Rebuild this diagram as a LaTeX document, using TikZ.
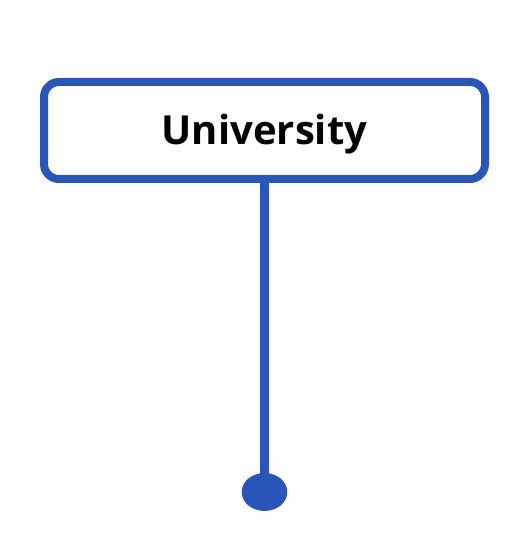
\documentclass[tikz,border=0pt]{standalone}
\usepackage{fontspec}
\setmainfont{Open Sans}
\usetikzlibrary{shapes.geometric}
\definecolor{uniblue}{RGB}{42,86,185}
\begin{document}
\begin{tikzpicture}[
    x=1pt, y=1pt,
    box/.style={
        draw=uniblue,
        line width=8pt,
        rounded corners=15pt,
        fill=white,
        align=center,
        inner sep=0pt,
        minimum width=441pt,
        minimum height=97pt,
        font=\fontsize{40}{48}\selectfont\bfseries,
        text height=29pt,
        text depth=0pt
    },
    enddot/.style={
        ellipse,
        fill=uniblue,
        inner sep=0pt,
        minimum width=45.6pt,
        minimum height=38pt
    },
    link/.style={draw=uniblue, line width=8.3pt}
]
    \useasboundingbox (0,0) rectangle (530,547);

    % top box
    \node[box] (uni) at (264.5,416.5) {University};

    % end point
    \node[enddot] (end) at (264.5,55) {};

    % connector
    \draw[link] (uni.south) -- (end.center);

\end{tikzpicture}
\end{document}
